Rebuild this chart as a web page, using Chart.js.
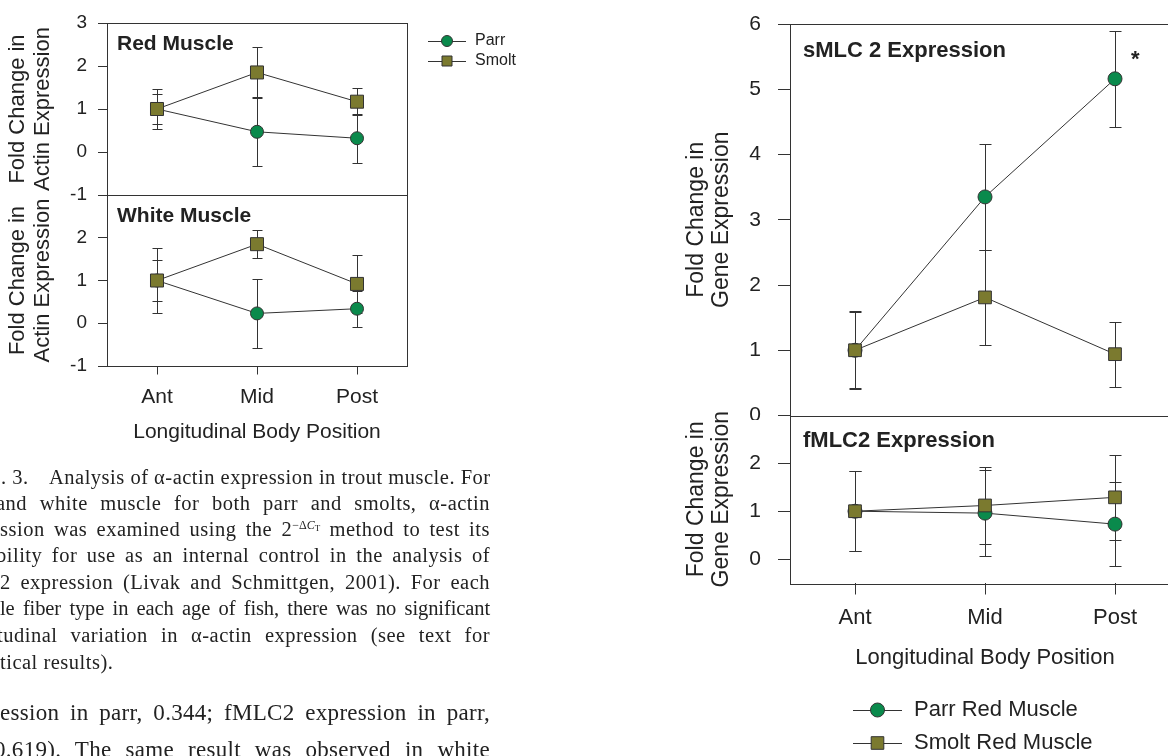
<!DOCTYPE html>
<html>
<head>
<meta charset="utf-8">
<script src="https://cdn.jsdelivr.net/npm/chart.js@4.4.0/dist/chart.umd.min.js"></script>
<style>
html, body { margin: 0; padding: 0; background: #fff; overflow: hidden; width: 1168px; height: 756px; }
canvas { position: absolute; }
.txt { position: absolute; left: 0; top: 0; width: 1168px; height: 756px; overflow: hidden;
       font-family: "Liberation Serif", "DejaVu Serif", serif; color: #222; pointer-events: none; }
.ln { position: absolute; white-space: nowrap; text-align: justify; text-align-last: justify; }
.cap { font-size: 20.5px; line-height: 26px; letter-spacing: 0.5px; }
.body { font-size: 23px; line-height: 37px; letter-spacing: 0.3px; }
sup { font-size: 12px; vertical-align: 7px; letter-spacing: 0; line-height: 0; }
sub { font-size: 9px; vertical-align: -2px; line-height: 0; }
</style>
</head>
<body>
<canvas id="redChart" style="left:0;top:0;width:560px;height:200px" width="560" height="200"></canvas>
<canvas id="whiteChart" style="left:0;top:185px;width:420px;height:261px" width="420" height="261"></canvas>
<canvas id="smlcChart" style="left:670px;top:0;width:520px;height:420px" width="520" height="420"></canvas>
<canvas id="fmlcChart" style="left:670px;top:405px;width:520px;height:348px" width="520" height="348"></canvas>

<div class="txt">
  <div class="ln cap" style="left:1px;top:464px">. 3.</div>
  <div class="ln cap" style="left:49px;top:464px;width:441px">Analysis of α-actin expression in trout muscle. For</div>
  <div class="ln cap" style="left:-4px;top:490px;width:494px">and white muscle for both parr and smolts, α-actin</div>
  <div class="ln cap" style="left:0;top:516px;width:490px">ssion was examined using the 2<sup>−Δ<i>C</i><sub>T</sub></sup> method to test its</div>
  <div class="ln cap" style="left:-4px;top:542px;width:494px">bility for use as an internal control in the analysis of</div>
  <div class="ln cap" style="left:0;top:569px;width:490px">2 expression (Livak and Schmittgen, 2001). For each</div>
  <div class="ln cap" style="left:0;top:595px;width:490px;letter-spacing:-0.1px">le fiber type in each age of fish, there was no significant</div>
  <div class="ln cap" style="left:-3px;top:622px;width:493px">tudinal variation in α-actin expression (see text for</div>
  <div class="ln cap" style="left:0;top:649px;text-align:left;text-align-last:left">tical results).</div>
  <div class="ln body" style="left:0;top:694px;width:490px">ession in parr, 0.344; fMLC2 expression in parr,</div>
  <div class="ln body" style="left:-6px;top:731px;width:496px">0.619). The same result was observed in white</div>
</div>

<script>
// Datos (media y error)
const positions = ['Ant', 'Mid', 'Post'];

const redParr = [1.0, 0.47, 0.32];
const redParrErr = [0.46, 0.80, 0.57];
const redSmolt = [1.0, 1.85, 1.17];
const redSmoltErr = [0.35, 0.60, 0.32];

const whiteParr = [1.0, 0.23, 0.34];
const whiteParrErr = [0.76, 0.80, 0.42];
const whiteSmolt = [1.0, 1.85, 0.92];
const whiteSmoltErr = [0.47, 0.33, 0.68];

const smlcParr = [1.0, 3.35, 5.16];
const smlcParrErr = [0.58, 0.81, 0.74];
const smlcSmolt = [1.0, 1.81, 0.94];
const smlcSmoltErr = [0.60, 0.73, 0.50];

const fmlcParr = [1.0, 0.96, 0.73];
const fmlcParrErr = [0.84, 0.90, 0.88];
const fmlcSmolt = [1.0, 1.12, 1.29];
const fmlcSmoltErr = [0.84, 0.80, 0.89];

const GREEN = '#0a8a4c';
const OLIVE = '#7b7a2f';
const INK = '#333';
const TEXT = '#222';

Chart.defaults.font.family = '"Liberation Sans", Arial, sans-serif';
Chart.defaults.color = TEXT;

// Serie con marcador y barras de error
function series(label, values, errors, color, style, radius, order) {
    return {
        label: label,
        data: values,
        errors: errors,
        borderColor: INK,
        borderWidth: 1,
        pointStyle: style,
        pointRadius: radius,
        pointBackgroundColor: color,
        pointBorderColor: INK,
        pointBorderWidth: 1,
        order: order,
        tension: 0,
        clip: false
    };
}

// Barras de error verticales
const errorBars = {
    id: 'errorBars',
    beforeDatasetsDraw(chart, args, opts) {
        const ctx = chart.ctx;
        const yScale = chart.scales.y;
        ctx.save();
        ctx.strokeStyle = INK;
        ctx.lineWidth = 1;
        chart.data.datasets.forEach((ds, i) => {
            const meta = chart.getDatasetMeta(i);
            meta.data.forEach((pt, j) => {
                const v = ds.data[j], e = ds.errors[j];
                const top = Math.round(yScale.getPixelForValue(v + e)) + 0.5;
                const bot = Math.round(yScale.getPixelForValue(v - e)) + 0.5;
                const x = Math.round(pt.x) + 0.5;
                ctx.beginPath();
                ctx.moveTo(x, top); ctx.lineTo(x, bot);
                ctx.moveTo(x - opts.cap, top); ctx.lineTo(x + opts.cap, top);
                ctx.moveTo(x - opts.cap, bot); ctx.lineTo(x + opts.cap, bot);
                ctx.stroke();
            });
        });
        ctx.restore();
    }
};

// Marco del panel
const frame = {
    id: 'frame',
    beforeDatasetsDraw(chart) {
        const a = chart.chartArea;
        const ctx = chart.ctx;
        ctx.save();
        ctx.strokeStyle = INK;
        ctx.lineWidth = 1;
        ctx.strokeRect(Math.round(a.left) + 0.5, Math.round(a.top) + 0.5,
            Math.round(a.right - a.left), Math.round(a.bottom - a.top));
        ctx.restore();
    }
};

function drawMarker(ctx, style, x, y, size, color) {
    ctx.fillStyle = color;
    ctx.strokeStyle = INK;
    ctx.lineWidth = 1;
    ctx.beginPath();
    if (style === 'circle') {
        ctx.arc(x, y, size, 0, Math.PI * 2);
    } else {
        ctx.rect(x - size, y - size, size * 2, size * 2);
    }
    ctx.fill();
    ctx.stroke();
}

// Títulos de panel, asterisco y leyenda
const notes = {
    id: 'notes',
    afterDraw(chart, args, opts) {
        const ctx = chart.ctx;
        ctx.save();
        ctx.fillStyle = TEXT;
        ctx.textBaseline = 'middle';
        ctx.textAlign = 'left';
        (opts.texts || []).forEach(t => {
            ctx.font = t.font;
            ctx.fillStyle = TEXT;
            ctx.fillText(t.text, t.x, t.y);
        });
        (opts.legend || []).forEach(l => {
            ctx.strokeStyle = INK;
            ctx.lineWidth = 1;
            ctx.beginPath();
            ctx.moveTo(l.x1, Math.round(l.y) + 0.5);
            ctx.lineTo(l.x2, Math.round(l.y) + 0.5);
            ctx.stroke();
            drawMarker(ctx, l.style, (l.x1 + l.x2) / 2, l.y, l.size, l.color);
            ctx.font = l.font;
            ctx.fillStyle = TEXT;
            ctx.fillText(l.label, l.tx, l.y);
        });
        ctx.restore();
    }
};

function yAxis(cfg) {
    return {
        min: cfg.min,
        max: cfg.max,
        afterFit: s => {
            s.width = cfg.width;
            s.paddingTop = 0;
            s.paddingBottom = 0;
        },
        border: { display: false },
        grid: { drawOnChartArea: false, tickLength: cfg.tickLength, color: INK },
        ticks: {
            stepSize: 1,
            includeBounds: false,
            padding: cfg.tickPadding,
            font: { size: cfg.tickSize },
            color: TEXT,
            callback: v => (cfg.hide.includes(v) ? '' : String(v))
        },
        title: {
            display: true,
            text: cfg.title,
            color: TEXT,
            font: { size: cfg.titleSize, lineHeight: cfg.titleLine },
            padding: { top: cfg.titlePad, bottom: 0 }
        }
    };
}

function xAxis(cfg) {
    if (!cfg) {
        return { type: 'category', labels: positions, offset: true, display: false };
    }
    return {
        type: 'category',
        labels: positions,
        offset: true,
        afterFit: s => {
            s.height = cfg.height;
            s.paddingLeft = 0;
            s.paddingRight = 0;
        },
        border: { display: false },
        grid: { drawOnChartArea: false, tickLength: cfg.tickLength, color: INK },
        ticks: { padding: cfg.tickPadding, font: { size: cfg.size }, color: TEXT, maxRotation: 0 },
        title: {
            display: true,
            text: 'Longitudinal Body Position',
            color: TEXT,
            font: { size: cfg.size },
            padding: { top: 0, bottom: cfg.titlePad }
        }
    };
}

function makeChart(id, parr, parrErr, smolt, smoltErr, opt) {
    return new Chart(document.getElementById(id), {
        type: 'line',
        data: {
            labels: positions,
            datasets: [
                series('Parr', parr, parrErr, GREEN, 'circle', opt.circle, 1),
                series('Smolt', smolt, smoltErr, OLIVE, 'rect', opt.rect, 0)
            ]
        },
        options: {
            responsive: false,
            animation: false,
            devicePixelRatio: 1,
            layout: { padding: opt.padding, autoPadding: false },
            plugins: {
                legend: { display: false },
                tooltip: { enabled: false },
                errorBars: { cap: opt.cap },
                notes: { texts: opt.texts, legend: opt.legend }
            },
            scales: { x: xAxis(opt.x), y: yAxis(opt.y) }
        },
        plugins: [frame, errorBars, notes]
    });
}

const leftY = { min: -1, max: 3, width: 107, tickLength: 9, tickPadding: 11, tickSize: 19,
    title: ['Fold Change in', 'Actin Expression'], titleSize: 22, titleLine: '25px', titlePad: 5.5, hide: [] };
const rightY = { width: 120, tickLength: 12, tickPadding: 17, tickSize: 21,
    title: ['Fold Change in', 'Gene Expression'], titleSize: 23, titleLine: '24.5px', titlePad: 14.75, hide: [] };

// Músculo rojo (actina)
makeChart('redChart', redParr, redParrErr, redSmolt, redSmoltErr, {
    circle: 6.5, rect: 9.2, cap: 5,
    padding: { top: 23, right: 153, bottom: 5, left: 0 },
    y: leftY,
    x: null,
    texts: [{ text: 'Red Muscle', x: 117, y: 44, font: 'bold 21px "Liberation Sans", Arial' }],
    legend: [
        { label: 'Parr', style: 'circle', size: 5.5, color: GREEN, x1: 428, x2: 466, y: 41, tx: 475, font: '16px "Liberation Sans", Arial' },
        { label: 'Smolt', style: 'rect', size: 5, color: OLIVE, x1: 428, x2: 466, y: 61, tx: 475, font: '16px "Liberation Sans", Arial' }
    ]
});

// Músculo blanco (actina)
makeChart('whiteChart', whiteParr, whiteParrErr, whiteSmolt, whiteSmoltErr, {
    circle: 6.5, rect: 9.2, cap: 5,
    padding: { top: 10, right: 13, bottom: 0, left: 0 },
    y: Object.assign({}, leftY, { hide: [3] }),
    x: { height: 80, tickLength: 8.5, tickPadding: 10, size: 21, titlePad: 1.4 },
    texts: [{ text: 'White Muscle', x: 117, y: 31, font: 'bold 21px "Liberation Sans", Arial' }],
    legend: []
});

// sMLC2
makeChart('smlcChart', smlcParr, smlcParrErr, smlcSmolt, smlcSmoltErr, {
    circle: 7, rect: 9, cap: 6,
    padding: { top: 24, right: 10, bottom: 4.5, left: 0 },
    y: Object.assign({}, rightY, { min: 0, max: 6 }),
    x: null,
    texts: [
        { text: 'sMLC 2 Expression', x: 133, y: 51, font: 'bold 22px "Liberation Sans", Arial' },
        { text: '*', x: 461, y: 60, font: 'bold 22px "Liberation Sans", Arial' }
    ],
    legend: []
});

// fMLC2
makeChart('fmlcChart', fmlcParr, fmlcParrErr, fmlcSmolt, fmlcSmoltErr, {
    circle: 7, rect: 9, cap: 6,
    padding: { top: 10.5, right: 10, bottom: 80, left: 0 },
    y: Object.assign({}, rightY, { min: -0.5, max: 3, hide: [3] }),
    x: { height: 90, tickLength: 11.5, tickPadding: 10.3, size: 22, titlePad: 1.8 },
    texts: [{ text: 'fMLC2 Expression', x: 133, y: 36, font: 'bold 22px "Liberation Sans", Arial' }],
    legend: [
        { label: 'Parr Red Muscle', style: 'circle', size: 7, color: GREEN, x1: 183, x2: 232, y: 305, tx: 244, font: '22px "Liberation Sans", Arial' },
        { label: 'Smolt Red Muscle', style: 'rect', size: 6.3, color: OLIVE, x1: 183, x2: 232, y: 338, tx: 244, font: '22px "Liberation Sans", Arial' }
    ]
});
</script>
</body>
</html>
